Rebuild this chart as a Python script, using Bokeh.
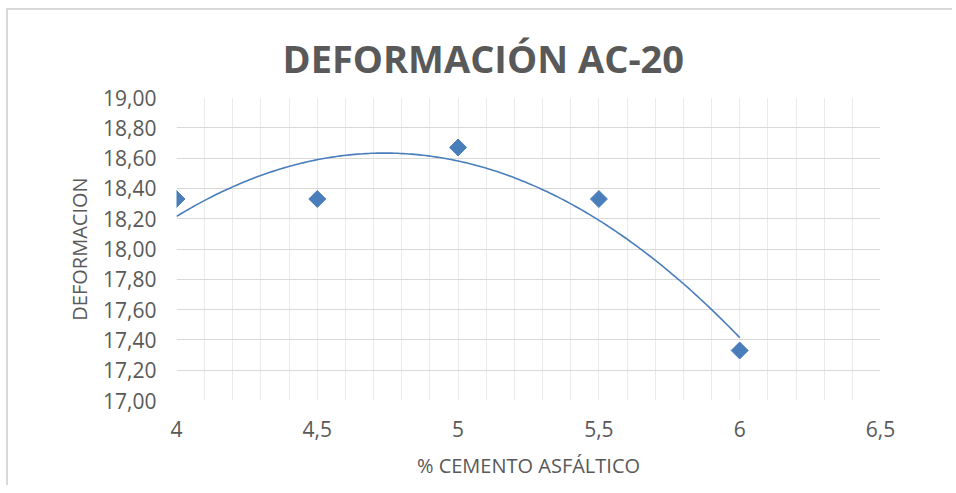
import numpy as np
from bokeh.plotting import figure
from bokeh.models import Range1d, FixedTicker, SingleIntervalTicker
from bokeh.embed import file_html
from bokeh.resources import INLINE

# ---- data ----
cemento = [4.0, 4.5, 5.0, 5.5, 6.0]
deformacion = [18.33, 18.33, 18.67, 18.33, 17.33]

x_ticks = [4.0, 4.5, 5.0, 5.5, 6.0, 6.5]
x_tick_labels = ["4", "4,5", "5", "5,5", "6", "6,5"]
y_ticks = [17.0, 17.2, 17.4, 17.6, 17.8, 18.0, 18.2, 18.4, 18.6, 18.8, 19.0]
y_tick_labels = ["17,00", "17,20", "17,40", "17,60", "17,80", "18,00",
                 "18,20", "18,40", "18,60", "18,80", "19,00"]

title_text = "DEFORMACIÓN AC-20"
x_label = "% CEMENTO ASFÁLTICO"
y_label = "DEFORMACION"

# polynomial (order 2) trendline fitted to the data
coef = np.polyfit(cemento, deformacion, 2)
trend_x = np.linspace(min(cemento), max(cemento), 200)
trend_y = np.polyval(coef, trend_x)

FONT = "Open Sans"
TXT = "#595959"
BLUE = "#4a7ebb"

p = figure(width=946, height=477, output_backend="svg", toolbar_location=None,
           x_range=Range1d(4.0, 6.5), y_range=Range1d(17.0, 19.0),
           min_border_left=168, min_border_right=74, min_border_top=87,
           min_border_bottom=87)
p.styles = {"border-left": "2px solid #d9d9d9", "border-top": "2px solid #d9d9d9",
            "margin-left": "6px", "margin-top": "8px"}
p.outline_line_color = None
p.background_fill_color = "white"
p.border_fill_color = "white"

p.title.text = title_text
p.title.text_font = FONT
p.title.text_font_style = "bold"
p.title.text_font_size = "38px"
p.title.text_color = TXT
p.title.align = "left"
p.title.offset = 106
p.title.standoff = 27

# axes
for ax in (p.xaxis[0], p.yaxis[0]):
    ax.axis_line_color = None
    ax.major_tick_line_color = None
    ax.minor_tick_line_color = None
    ax.major_label_text_font = FONT
    ax.major_label_text_font_size = "21px"
    ax.major_label_text_color = TXT
    ax.axis_label_text_font = FONT
    ax.axis_label_text_font_size = "20px"
    ax.axis_label_text_color = TXT
    ax.axis_label_text_font_style = "normal"

p.xaxis.ticker = FixedTicker(ticks=x_ticks)
p.xaxis.major_label_overrides = dict(zip(x_ticks, x_tick_labels))
p.xaxis.major_label_standoff = 14
p.xaxis.axis_label = x_label
p.xaxis.axis_label_standoff = 12

p.yaxis.ticker = FixedTicker(ticks=y_ticks)
p.yaxis.major_label_overrides = dict(zip(y_ticks, y_tick_labels))
p.yaxis.major_label_standoff = 14
p.yaxis.axis_label = y_label
p.yaxis.axis_label_standoff = 7

# grids
p.xgrid.ticker = SingleIntervalTicker(interval=0.1, num_minor_ticks=0)
p.xgrid.grid_line_color = "#ebebeb"
p.xgrid.grid_line_width = 1
p.ygrid.ticker = FixedTicker(ticks=y_ticks)
p.ygrid.grid_line_color = "#d9d9d9"
p.ygrid.grid_line_width = 1

# marks
p.scatter(cemento, deformacion, marker="square", angle=np.pi / 4, size=12,
          fill_color=BLUE, line_color=BLUE)
p.line(trend_x, trend_y, line_color=BLUE, line_width=1.6)

open("out.html", "w").write(file_html(p, INLINE))
